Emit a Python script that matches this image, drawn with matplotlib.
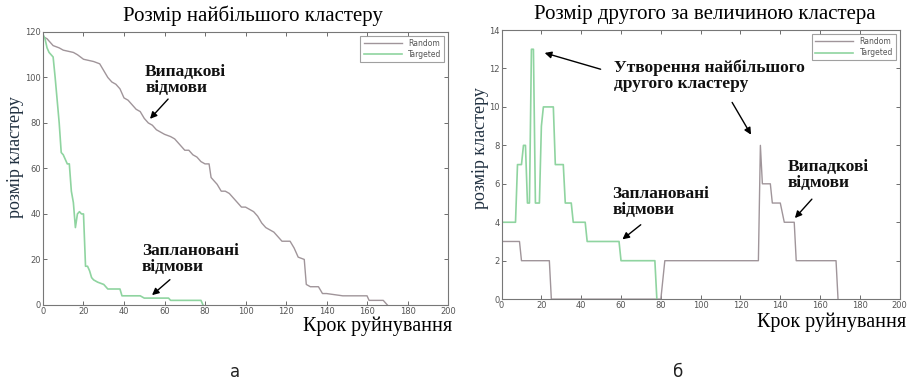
import matplotlib.pyplot as plt
import numpy as np

# largest cluster, random failures
rnd1_x = [0, 2, 5, 8, 10, 15, 17, 20, 25, 28, 30, 32, 34, 36, 38, 40, 42, 44, 46, 48,
          50, 52, 54, 56, 58, 60, 63, 65, 67, 70, 72, 74, 76, 78, 80, 82, 83, 84, 86, 88,
          90, 92, 94, 96, 98, 100, 102, 104, 106, 108, 110, 112, 114, 116, 118, 122, 124,
          126, 129, 130, 132, 136, 138, 140, 148, 160, 161, 168, 170]
rnd1_y = [118, 117, 114, 113, 112, 111, 110, 108, 107, 106, 103, 100, 98, 97, 95, 91, 90,
          88, 86, 85, 82, 80, 79, 77, 76, 75, 74, 73, 71, 68, 68, 66, 65, 63, 62, 62, 56,
          55, 53, 50, 50, 49, 47, 45, 43, 43, 42, 41, 39, 36, 34, 33, 32, 30, 28, 28, 25,
          21, 20, 9, 8, 8, 5, 5, 4, 4, 2, 2, 0]
# largest cluster, targeted failures
tgt1_x = [0, 1, 2, 3, 4, 5, 6, 7, 8, 9, 10, 11, 12, 13, 14, 15, 16, 17, 18, 19, 20, 21,
          22, 23, 24, 25, 27, 30, 32, 38, 39, 48, 50, 62, 63, 78, 79]
tgt1_y = [119, 117, 113, 111, 110, 109, 100, 90, 80, 67, 66, 64, 62, 62, 50, 45, 34, 40,
          41, 40, 40, 17, 17, 15, 12, 11, 10, 9, 7, 7, 4, 4, 3, 3, 2, 2, 0]

# second cluster, random failures
rnd2_x = [0, 9, 10, 24, 25, 80, 82, 129, 130, 131, 135, 136, 140, 142, 147, 148, 168, 169]
rnd2_y = [3, 3, 2, 2, 0, 0, 2, 2, 8, 6, 6, 5, 5, 4, 4, 2, 2, 0]
# second cluster, targeted failures
tgt2_x = [0, 7, 8, 10, 11, 12, 13, 14, 15, 16, 17, 19, 20, 21, 26, 27, 31, 32, 35, 36,
          42, 43, 59, 60, 77, 78]
tgt2_y = [4, 4, 7, 7, 8, 8, 5, 5, 13, 13, 5, 5, 9, 10, 10, 7, 7, 5, 5, 4, 4, 3, 3, 2, 2, 0]

serif = 'Liberation Serif'
rnd_col = '#a0959a'
tgt_col = '#8fd4a0'

fig = plt.figure(figsize=(9.07, 3.85), dpi=100)
ax1 = fig.add_axes([0.0474, 0.208, 0.4466, 0.709])
ax2 = fig.add_axes([0.553, 0.223, 0.439, 0.699])


def style(ax, ymax, ystep):
    ax.set_xlim(0, 200)
    ax.set_ylim(0, ymax)
    ax.set_xticks(np.arange(0, 201, 20))
    ax.set_yticks(np.arange(0, ymax + 1, ystep))
    ax.tick_params(direction='in', top=True, right=True, length=3, width=0.6,
                   labelsize=6, colors='#555555', pad=1.5)
    for s in ax.spines.values():
        s.set_color('#777777')
        s.set_linewidth(0.8)
    leg = ax.legend(loc='upper right', fontsize=5.5, handlelength=5, frameon=True,
                    fancybox=False, borderpad=0.4, labelspacing=0.3)
    leg.get_frame().set_edgecolor('#888888')
    leg.get_frame().set_linewidth(0.8)
    for t in leg.get_texts():
        t.set_color('#555555')


ax1.plot(rnd1_x, rnd1_y, color=rnd_col, lw=1.0, label='Random')
ax1.plot(tgt1_x, tgt1_y, color=tgt_col, lw=1.2, label='Targeted')
style(ax1, 120, 20)

ax2.plot(rnd2_x, rnd2_y, color=rnd_col, lw=1.0, label='Random')
ax2.plot(tgt2_x, tgt2_y, color=tgt_col, lw=1.2, label='Targeted')
style(ax2, 14, 2)

arrow = dict(arrowstyle='-|>', color='black', lw=1.0, mutation_scale=10)
afs = 12.5
ann = dict(family=serif, fontsize=afs, va='top', linespacing=1.0, weight='bold',
           color='#111111')

ax1.text(50.4, 106, 'Випадкові\nвідмови', **ann)
ax1.annotate('', xy=(51.9, 80.9), xytext=(62.7, 91.4), arrowprops=arrow)
ax1.text(48.9, 27.3, 'Заплановані\nвідмови', **ann)
ax1.annotate('', xy=(52.8, 3.5), xytext=(63.7, 11.9), arrowprops=arrow)

ax2.text(56.6, 12.45, 'Утворення найбільшого\nдругого кластеру', **ann)
ax2.annotate('', xy=(20.3, 12.85), xytext=(51.1, 11.92), arrowprops=arrow)
ax2.annotate('', xy=(126.0, 8.43), xytext=(115.1, 10.36), arrowprops=arrow)
ax2.text(55.6, 5.9, 'Заплановані\nвідмови', **ann)
ax2.annotate('', xy=(59.6, 3.02), xytext=(71.0, 3.96), arrowprops=arrow)
ax2.text(143.9, 7.3, 'Випадкові\nвідмови', **ann)
ax2.annotate('', xy=(146.4, 4.11), xytext=(156.8, 5.31), arrowprops=arrow)

# titles and axis labels
fig.text(253 / 907, 1 - 16 / 385, 'Розмір найбільшого кластеру', family=serif,
         fontsize=15, ha='center', va='center')
fig.text(705 / 907, 1 - 15 / 385, 'Розмір другого за величиною кластера', family=serif,
         fontsize=15, ha='center', va='center')
fig.text(452 / 907, 1 - 326 / 385, 'Крок руйнування', family=serif, fontsize=14.5,
         ha='right', va='center')
fig.text(906 / 907, 1 - 322 / 385, 'Крок руйнування', family=serif, fontsize=14.5,
         ha='right', va='center')
fig.text(15 / 907, 1 - 157 / 385, 'розмір кластеру', family=serif, fontsize=13,
         rotation=90, ha='center', va='center', color='#203040')
fig.text(480 / 907, 1 - 148 / 385, 'розмір кластеру', family=serif, fontsize=13,
         rotation=90, ha='center', va='center', color='#203040')

fig.text(235 / 907, 1 - 372 / 385, 'а', fontsize=12, ha='center', va='center',
         color='#222222')
fig.text(678 / 907, 1 - 372 / 385, 'б', fontsize=12, ha='center', va='center',
         color='#222222')

fig.savefig('out.png', dpi=100)
